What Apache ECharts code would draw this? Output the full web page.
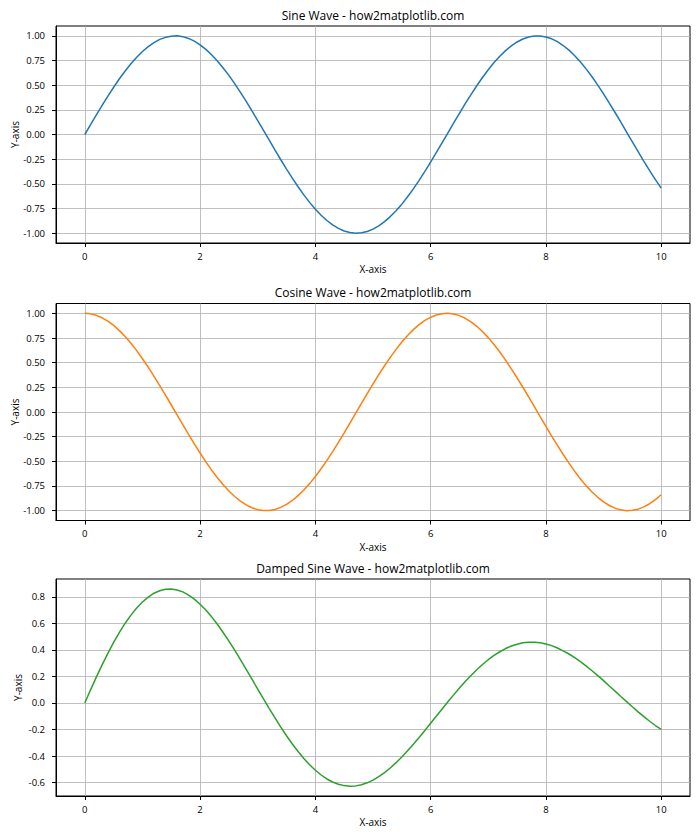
<!DOCTYPE html>
<html>
<head>
<meta charset="utf-8">
<script src="https://cdn.jsdelivr.net/npm/echarts@6/dist/echarts.min.js"></script>
<style>
html,body{margin:0;padding:0;background:#fff;}
#chart{width:700px;height:840px;}
</style>
</head>
<body>
<div id="chart"></div>
<script>
// ---- data ----
var xValues = [0,0.1,0.2,0.3,0.4,0.5,0.6,0.7,0.8,0.9,
  1.0,1.1,1.2,1.3,1.4,1.5,1.6,1.7,1.8,1.9,
  2.0,2.1,2.2,2.3,2.4,2.5,2.6,2.7,2.8,2.9,
  3.0,3.1,3.2,3.3,3.4,3.5,3.6,3.7,3.8,3.9,
  4.0,4.1,4.2,4.3,4.4,4.5,4.6,4.7,4.8,4.9,
  5.0,5.1,5.2,5.3,5.4,5.5,5.6,5.7,5.8,5.9,
  6.0,6.1,6.2,6.3,6.4,6.5,6.6,6.7,6.8,6.9,
  7.0,7.1,7.2,7.3,7.4,7.5,7.6,7.7,7.8,7.9,
  8.0,8.1,8.2,8.3,8.4,8.5,8.6,8.7,8.8,8.9,
  9.0,9.1,9.2,9.3,9.4,9.5,9.6,9.7,9.8,9.9,
  10.0];
var sineValues = [0,0.100,0.199,0.296,0.389,0.479,0.565,0.644,0.717,0.783,
  0.841,0.891,0.932,0.964,0.985,0.997,1.000,0.992,0.974,0.946,
  0.909,0.863,0.808,0.746,0.675,0.599,0.516,0.427,0.335,0.239,
  0.141,0.042,-0.058,-0.158,-0.256,-0.351,-0.443,-0.530,-0.612,-0.688,
  -0.757,-0.818,-0.872,-0.916,-0.952,-0.978,-0.994,-1.000,-0.996,-0.983,
  -0.959,-0.926,-0.883,-0.832,-0.773,-0.706,-0.631,-0.551,-0.465,-0.374,
  -0.279,-0.182,-0.083,0.017,0.117,0.215,0.312,0.405,0.494,0.578,
  0.657,0.729,0.794,0.850,0.899,0.938,0.968,0.988,0.999,0.999,
  0.989,0.970,0.941,0.902,0.855,0.799,0.735,0.663,0.585,0.501,
  0.412,0.319,0.223,0.125,0.025,-0.075,-0.174,-0.272,-0.366,-0.458,
  -0.544];
var cosineValues = [1.000,0.995,0.980,0.955,0.921,0.878,0.825,0.765,0.697,0.622,
  0.540,0.454,0.362,0.268,0.170,0.071,-0.029,-0.129,-0.227,-0.323,
  -0.416,-0.505,-0.589,-0.666,-0.737,-0.801,-0.857,-0.904,-0.942,-0.971,
  -0.990,-0.999,-0.998,-0.988,-0.967,-0.937,-0.897,-0.848,-0.791,-0.726,
  -0.654,-0.575,-0.490,-0.401,-0.307,-0.211,-0.112,-0.012,0.087,0.187,
  0.284,0.378,0.469,0.554,0.635,0.709,0.776,0.835,0.886,0.928,
  0.960,0.983,0.997,1.000,0.993,0.977,0.950,0.914,0.869,0.816,
  0.754,0.685,0.608,0.526,0.438,0.347,0.251,0.153,0.054,-0.046,
  -0.146,-0.244,-0.339,-0.431,-0.519,-0.602,-0.679,-0.749,-0.811,-0.865,
  -0.911,-0.948,-0.975,-0.992,-1.000,-0.997,-0.985,-0.962,-0.930,-0.889,
  -0.839];
var dampedValues = [0,0.099,0.195,0.287,0.374,0.456,0.532,0.601,0.662,0.716,
  0.761,0.798,0.827,0.846,0.857,0.859,0.852,0.837,0.813,0.783,
  0.744,0.700,0.649,0.593,0.531,0.466,0.398,0.326,0.253,0.179,
  0.105,0.031,-0.042,-0.113,-0.182,-0.247,-0.309,-0.366,-0.418,-0.466,
  -0.507,-0.543,-0.573,-0.596,-0.613,-0.623,-0.627,-0.625,-0.616,-0.602,
  -0.582,-0.556,-0.525,-0.490,-0.450,-0.407,-0.361,-0.311,-0.260,-0.207,
  -0.153,-0.099,-0.045,0.009,0.061,0.112,0.161,0.207,0.250,0.290,
  0.326,0.358,0.386,0.410,0.429,0.443,0.453,0.458,0.458,0.453,
  0.445,0.432,0.414,0.393,0.369,0.341,0.311,0.278,0.243,0.206,
  0.168,0.128,0.089,0.049,0.010,-0.029,-0.067,-0.103,-0.138,-0.170,
  -0.200];

var titles = ['Sine Wave - how2matplotlib.com','Cosine Wave - how2matplotlib.com','Damped Sine Wave - how2matplotlib.com'];
var xTicks = [0,2,4,6,8,10];
var yTicksTrig = [-1.00,-0.75,-0.50,-0.25,0.00,0.25,0.50,0.75,1.00];
var yTicksDamped = [-0.6,-0.4,-0.2,0.0,0.2,0.4,0.6,0.8];
var xRange = [-0.5, 10.5];
var yRanges = [[-1.1,1.1],[-1.1,1.1],[-0.7013,0.9343]];
var colors = ['#1f77b4','#ff7f0e','#2ca02c'];
var seriesValues = [sineValues, cosineValues, dampedValues];

var FONT = 'Open Sans';
var gridTops = [26, 303.5, 579];
var gridH = 217;
var gridLeft = 56, gridW = 634;

function pairs(ys){ var out=[]; for (var i=0;i<xValues.length;i++) out.push([xValues[i], ys[i]]); return out; }

var grids=[], xAxes=[], yAxes=[], series=[], graphics=[];
for (var k=0;k<3;k++){
  grids.push({left:gridLeft, top:gridTops[k], width:gridW, height:gridH, show:true, borderColor:'#000', borderWidth:1,
    backgroundColor:'transparent', containLabel:false, outerBoundsMode:'none'});
  xAxes.push({
    type:'value', gridIndex:k, min:xRange[0], max:xRange[1], position:'bottom',
    name:'X-axis', nameLocation:'middle', nameGap:21, nameMoveOverlap:false,
    nameTextStyle:{fontFamily:FONT, fontSize:10, color:'#000'},
    axisLine:{show:true, onZero:false, lineStyle:{color:'#000', width:1}},
    axisTick:{show:true, inside:false, length:4, customValues:xTicks, lineStyle:{color:'#000', width:1}},
    axisLabel:{customValues:xTicks, margin:8, fontFamily:FONT, fontSize:9.5, color:'#000', formatter:function(v){return String(v);}},
    splitLine:{show:true, lineStyle:{color:'#b0b0b0', width:0.8}}
  });
  var yt = k<2 ? yTicksTrig : yTicksDamped;
  var dec = k<2 ? 2 : 1;
  yAxes.push({
    type:'value', gridIndex:k, min:yRanges[k][0], max:yRanges[k][1], position:'left',
    name:'Y-axis', nameLocation:'middle', nameRotate:90, nameGap: k<2 ? 36 : 33, nameMoveOverlap:false,
    nameTextStyle:{fontFamily:FONT, fontSize:10, color:'#000'},
    axisLine:{show:true, onZero:false, lineStyle:{color:'#000', width:1}},
    axisTick:{show:true, inside:false, length:4, customValues:yt, lineStyle:{color:'#000', width:1}},
    axisLabel:{customValues:yt, margin:11, fontFamily:FONT, fontSize:9.5, color:'#000', formatter:(function(d){return function(v){return v.toFixed(d);};})(dec)},
    splitLine:{show:true, lineStyle:{color:'#b0b0b0', width:0.8}}
  });
  series.push({
    type:'line', xAxisIndex:k, yAxisIndex:k, data:pairs(seriesValues[k]),
    showSymbol:false, symbol:'none', smooth:false, silent:true, animation:false,
    lineStyle:{color:colors[k], width:1.5}
  });
  graphics.push({
    type:'text', x: gridLeft + gridW/2, y: gridTops[k] - 11,
    style:{text:titles[k], fill:'#000', fontFamily:FONT, fontSize:12, textAlign:'center', textVerticalAlign:'middle'}
  });
}

var chart = echarts.init(document.getElementById('chart'), null, {renderer:'svg'});
chart.setOption({
  animation:false,
  backgroundColor:'#fff',
  grid:grids, xAxis:xAxes, yAxis:yAxes, series:series, graphic:graphics
});
</script>
</body>
</html>
